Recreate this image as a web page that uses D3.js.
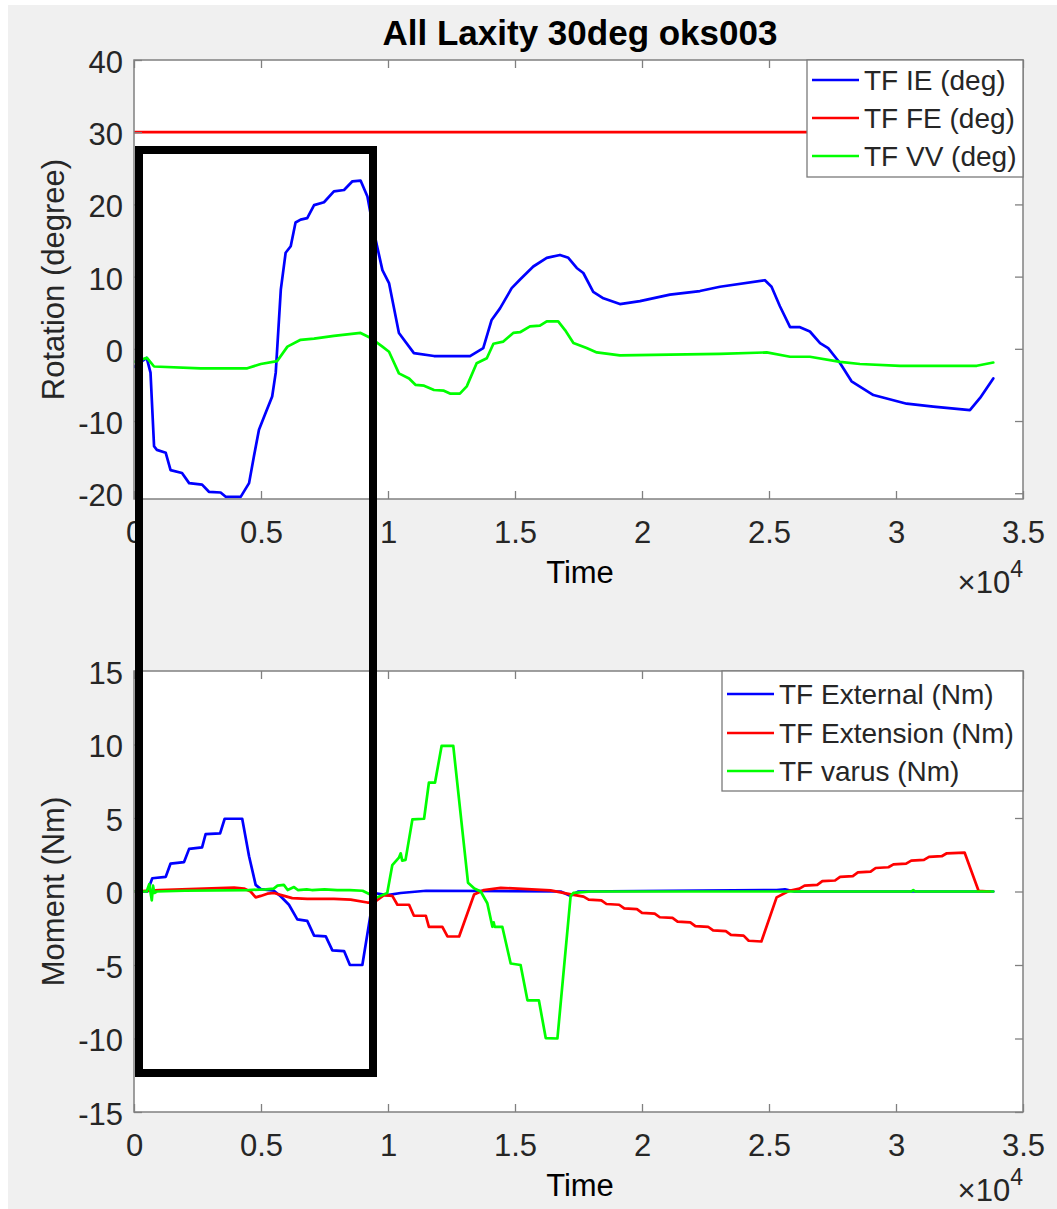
<!DOCTYPE html>
<html>
<head>
<meta charset="utf-8">
<script src="https://cdn.jsdelivr.net/npm/d3@7"></script>
<style>
  html, body { margin: 0; padding: 0; background: #ffffff; }
  svg { display: block; }
  text { font-family: "Liberation Sans", Arial, Helvetica, sans-serif; }
</style>
</head>
<body>
<svg id="chart" width="1057" height="1209"></svg>
<script>
// ---------------- DATA ----------------
const chartTitle = "All Laxity 30deg oks003";
const xTickValues = [0, 5000, 10000, 15000, 20000, 25000, 30000, 35000];
const xTickLabels = ["0", "0.5", "1", "1.5", "2", "2.5", "3", "3.5"];
const topYTicks = [-20, -10, 0, 10, 20, 30, 40];
const bottomYTicks = [-15, -10, -5, 0, 5, 10, 15];
const topLegend = ["TF IE (deg)", "TF FE (deg)", "TF VV (deg)"];
const bottomLegend = ["TF External (Nm)", "TF Extension (Nm)", "TF varus (Nm)"];

// Top panel: rotation (degree) vs time  [time, value]
const tfIE = [[0,-2.5],[500,-1.25],[650,-3.3],[790,-13.5],[900,-14.0],[1250,-14.4],[1440,-16.8],[1890,-17.2],
  [2170,-18.6],[2680,-18.8],[2950,-19.8],[3410,-19.9],[3610,-20.5],[4200,-20.5],[4530,-18.6],[4720,-14.9],
  [4920,-11.2],[5180,-8.9],[5440,-6.6],[5580,-3.3],[5780,8.2],[5970,13.3],[6170,14.2],[6360,17.5],[6560,17.9],
  [6820,18.1],[7090,19.9],[7480,20.3],[7870,21.8],[8270,22.0],[8600,23.2],[8920,23.3],[9190,21.1],[9450,16.1],
  [9780,10.9],[10040,9.1],[10430,2.2],[11020,-0.6],[11810,-1.0],[13230,-1.0],[13750,0.1],[14080,4.0],[14410,5.6],
  [14870,8.4],[15200,9.6],[15720,11.4],[16250,12.6],[16770,13.0],[17100,12.6],[17430,11.2],[17690,10.5],
  [18080,7.9],[18480,7.0],[19130,6.2],[19920,6.6],[21100,7.5],[22280,8.0],[23070,8.6],[24840,9.5],[25100,8.6],
  [25430,5.9],[25830,3.0],[26220,3.0],[26610,2.4],[27010,0.8],[27330,0.1],[27800,-2.0],[28250,-4.5],[29110,-6.4],
  [30420,-7.6],[31470,-8.0],[32910,-8.5],[33310,-6.8],[33830,-4.1]];
const tfFE = [[0,30],[33830,30]];
const tfVV = [[0,-1.8],[510,-1.25],[790,-2.45],[2620,-2.7],[4460,-2.7],[4990,-2.1],[5640,-1.7],[6040,0.3],
  [6560,1.25],[7090,1.4],[7870,1.8],[8920,2.2],[9320,1.5],[9780,0.3],[10040,-0.4],[10430,-3.4],[10830,-4.1],
  [11090,-5.0],[11420,-5.1],[11810,-5.7],[12200,-5.8],[12440,-6.2],[12830,-6.2],[13100,-5.2],[13490,-2.0],
  [13890,-1.3],[14150,0.7],[14540,1.0],[14930,2.2],[15200,2.3],[15590,3.1],[15980,3.2],[16250,3.8],[16700,3.8],
  [16970,2.6],[17300,0.8],[17820,0.1],[18220,-0.5],[19130,-0.9],[23070,-0.7],[24910,-0.5],[25830,-1.1],
  [26610,-1.1],[27800,-1.8],[28580,-2.1],[30160,-2.35],[33180,-2.35],[33830,-1.9]];

// Bottom panel: moment (Nm) vs time  [time, value]
const tfExternal = [[0,0],[525,0],[720,0.9],[1250,1.0],[1440,1.9],[1970,2.0],[2170,2.9],[2680,3.0],[2820,3.9],
  [3390,3.95],[3570,4.95],[4260,4.95],[4530,2.4],[4790,0.45],[4990,0.16],[5510,0.05],[5780,-0.34],[6100,-0.9],
  [6430,-1.9],[6820,-2.0],[7090,-3.0],[7550,-3.05],[7810,-4.0],[8270,-4.05],[8500,-5.0],[8990,-5.0],[9450,-0.1],
  [9970,-0.25],[10500,-0.1],[11500,0.05],[16800,0.0],[17190,-0.3],[17500,0.0],[25300,0.1],[25630,0.15],
  [26000,0.0],[33830,0.0]];
const tfExtension = [[0,0],[1000,0.1],[3940,0.27],[4330,0.2],[4590,0],[4790,-0.4],[4990,-0.3],[5250,-0.15],
  [5510,-0.1],[5910,-0.3],[6230,-0.45],[6820,-0.5],[7870,-0.5],[8530,-0.55],[9190,-0.75],[9450,-0.75],
  [9840,-0.25],[10170,-0.3],[10370,-0.9],[10830,-0.9],[11020,-1.65],[11490,-1.65],[11610,-2.4],[12140,-2.4],
  [12340,-3.06],[12800,-3.06],[13390,-0.2],[13780,0.1],[14440,0.25],[15100,0.2],[16400,0.08],[17200,-0.2],
  [17700,-0.35],[17900,-0.55],[18400,-0.6],[18600,-0.85],[19100,-0.9],[19300,-1.15],[19800,-1.2],[20000,-1.45],
  [20500,-1.5],[20700,-1.75],[21200,-1.8],[21400,-2.05],[21900,-2.1],[22100,-2.35],[22600,-2.4],[22800,-2.65],
  [23300,-2.7],[23500,-2.95],[24000,-3.0],[24200,-3.35],[24700,-3.4],[25300,-0.4],[25800,0.05],[26200,0.2],
  [26400,0.4],[26900,0.45],[27100,0.7],[27600,0.75],[27800,1.0],[28300,1.05],[28500,1.3],[29000,1.35],
  [29200,1.6],[29700,1.65],[29900,1.85],[30400,1.9],[30600,2.1],[31100,2.15],[31300,2.35],[31800,2.4],
  [32000,2.6],[32700,2.65],[33250,0.05],[33700,0]];
const tfVarus = [[0,0],[500,0],[600,0.5],[700,-0.6],[750,0.4],[800,-0.1],[900,0],[2000,0.05],[4500,0.1],
  [5200,0.15],[5500,0.2],[5650,0.4],[5900,0.45],[6050,0.1],[6300,0.3],[6450,0.1],[6800,0.15],[7000,0.1],
  [7500,0.15],[8000,0.1],[8500,0.1],[9000,0.05],[9300,-0.2],[9500,-0.45],[9970,-0.1],[10170,1.8],[10430,2.3],
  [10500,2.6],[10560,2.1],[10690,2.15],[10960,4.9],[11420,4.95],[11610,7.4],[11850,7.4],[12110,9.9],[12570,9.9],
  [13150,0.6],[13400,0.2],[13650,0.0],[13910,-0.8],[14110,-2.4],[14160,-2.1],[14200,-2.4],[14500,-2.4],
  [14830,-4.9],[15220,-5.0],[15490,-7.4],[15940,-7.4],[16210,-9.97],[16670,-10.0],[17190,-0.3],[17300,-0.1],
  [18000,0.0],[30600,0.0],[30680,0.1],[30760,0.0],[33830,0.0]];

// ---------------- DRAWING ----------------
const svg = d3.select("#chart");
const W = 1057, H = 1209;
const axisColor = "#808080";
const textColor = "#262626";
const seriesColors = ["#0000ff", "#ff0000", "#00ff00"];

svg.append("rect").attr("x", 8).attr("y", 5).attr("width", W - 8).attr("height", H - 5).attr("fill", "#f0f0f0");

function panel(cfg) {
  const x = d3.scaleLinear().domain([0, 35000]).range([134, 1023]);
  const y = d3.scaleLinear().domain(cfg.yDomain).range([cfg.bottom, cfg.top]);
  const g = svg.append("g");

  g.append("rect").attr("x", 134).attr("y", cfg.top).attr("width", 1023 - 134)
    .attr("height", cfg.bottom - cfg.top).attr("fill", "#ffffff");

  const clipId = "clip" + cfg.id;
  svg.append("clipPath").attr("id", clipId).append("rect")
    .attr("x", 134).attr("y", cfg.top).attr("width", 1023 - 134).attr("height", cfg.bottom - cfg.top);

  const line = d3.line().x(d => x(d[0])).y(d => y(d[1]));
  const lines = g.append("g").attr("clip-path", `url(#${clipId})`);
  cfg.series.forEach((s, i) => {
    lines.append("path").datum(s).attr("d", line).attr("fill", "none")
      .attr("stroke", seriesColors[i]).attr("stroke-width", 2.7)
      .attr("stroke-linejoin", "round").attr("stroke-linecap", "round");
  });

  // axes
  const bottomAxis = d3.axisBottom(x).tickValues(xTickValues)
    .tickFormat((d, i) => xTickLabels[i]).tickSize(-8).tickPadding(22);
  const gb = g.append("g").attr("transform", `translate(0,${cfg.bottom})`).call(bottomAxis);
  const topAxis = d3.axisTop(x).tickValues(xTickValues).tickFormat("").tickSize(-8);
  const gt = g.append("g").attr("transform", `translate(0,${cfg.top})`).call(topAxis);
  const leftAxis = d3.axisLeft(y).tickValues(cfg.yTicks).tickFormat(d => String(d)).tickSize(-8).tickPadding(11);
  const gl = g.append("g").attr("transform", `translate(134,0)`).call(leftAxis);
  const rightAxis = d3.axisRight(y).tickValues(cfg.yTicks).tickFormat("").tickSize(-8);
  const gr = g.append("g").attr("transform", `translate(1023,0)`).call(rightAxis);

  [gb, gt, gl, gr].forEach(a => {
    a.select(".domain").remove();
    a.selectAll(".tick line").attr("stroke", axisColor).attr("stroke-width", 1.3);
    a.selectAll(".tick text").attr("fill", textColor).attr("font-size", 31)
      .attr("font-family", "Liberation Sans, Arial, sans-serif");
  });
  gl.selectAll(".tick text").attr("dy", "0.4em");

  g.append("rect").attr("x", 134).attr("y", cfg.top).attr("width", 1023 - 134)
    .attr("height", cfg.bottom - cfg.top).attr("fill", "none")
    .attr("stroke", axisColor).attr("stroke-width", 1.5);

  // labels
  g.append("text").attr("x", 580).attr("y", cfg.bottom + 84).attr("text-anchor", "middle")
    .attr("font-size", 31).attr("fill", "#000").text("Time");
  g.append("text").attr("transform", `translate(64,${(cfg.top + cfg.bottom) / 2}) rotate(-90)`)
    .attr("text-anchor", "middle").attr("font-size", 31).attr("fill", textColor).text(cfg.yLabel);
  const ex = g.append("text").attr("x", 1023).attr("y", Math.min(cfg.bottom + 94, 1201)).attr("text-anchor", "end")
    .attr("font-size", 31).attr("fill", textColor);
  ex.append("tspan").text("\u00d710");
  ex.append("tspan").attr("dy", -16).attr("font-size", 23).text("4");

  // legend
  const lg = g.append("g");
  lg.append("rect").attr("x", cfg.legend.x).attr("y", cfg.top).attr("width", 1023 - cfg.legend.x)
    .attr("height", cfg.legend.h).attr("fill", "#ffffff").attr("stroke", "#7a7a7a").attr("stroke-width", 1.3);
  cfg.legendLabels.forEach((lab, i) => {
    const ly = cfg.legend.rows[i];
    lg.append("line").attr("x1", cfg.legend.x + 5).attr("x2", cfg.legend.x + 52)
      .attr("y1", ly).attr("y2", ly).attr("stroke", seriesColors[i]).attr("stroke-width", 2.7);
    lg.append("text").attr("x", cfg.legend.x + 57).attr("y", ly + 10).attr("font-size", 28)
      .attr("fill", textColor).text(lab);
  });
}

panel({
  id: "top", top: 60, bottom: 499, yDomain: [-20.8, 40], yTicks: topYTicks,
  yLabel: "Rotation (degree)", series: [tfIE, tfFE, tfVV], legendLabels: topLegend,
  legend: { x: 807, h: 117, rows: [80, 118, 156] }
});
panel({
  id: "bottom", top: 671, bottom: 1112, yDomain: [-15, 15], yTicks: bottomYTicks,
  yLabel: "Moment (Nm)", series: [tfExternal, tfExtension, tfVarus], legendLabels: bottomLegend,
  legend: { x: 722, h: 120, rows: [694, 733, 771] }
});

// title
svg.append("text").attr("x", 580).attr("y", 45).attr("text-anchor", "middle")
  .attr("font-size", 35).attr("font-weight", "bold").attr("fill", "#000").text(chartTitle);

// black highlight annotation box
svg.append("rect").attr("x", 139).attr("y", 150).attr("width", 373 - 139).attr("height", 1073 - 150)
  .attr("fill", "none").attr("stroke", "#000").attr("stroke-width", 8);
</script>
</body>
</html>
